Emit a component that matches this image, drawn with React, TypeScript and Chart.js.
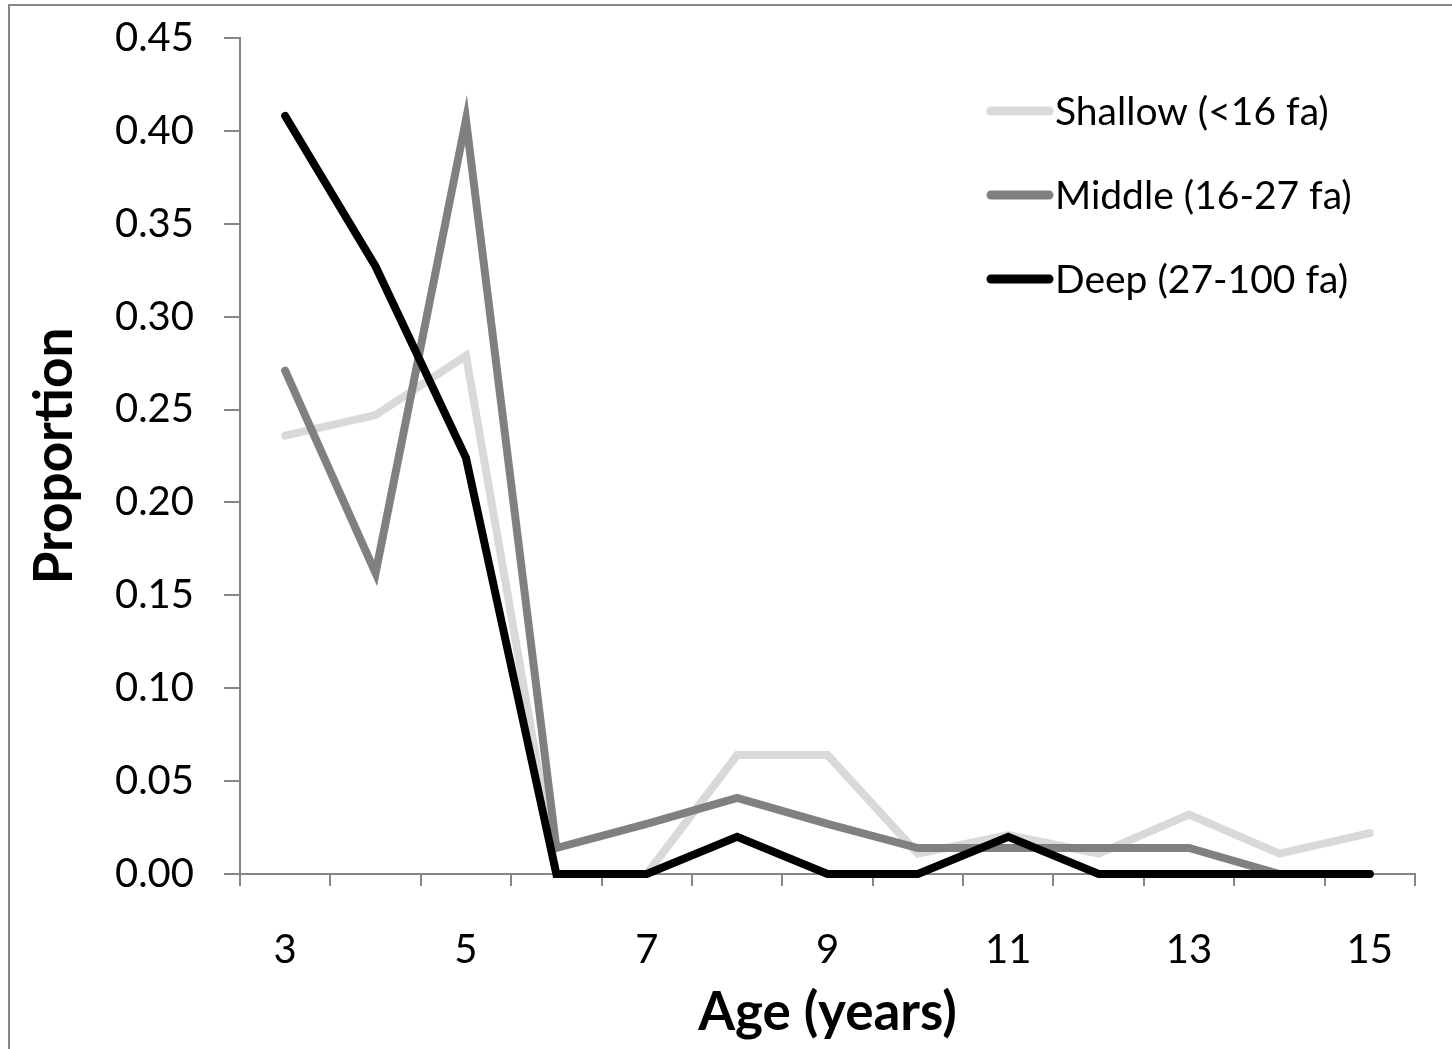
import React, { useEffect, useRef } from "react";
import { Chart, registerables } from "chart.js";

Chart.register(...registerables);

const ages = ["3", "4", "5", "6", "7", "8", "9", "10", "11", "12", "13", "14", "15"];
const shallow = [0.236, 0.247, 0.279, 0.0, 0.0, 0.064, 0.064, 0.011, 0.021, 0.011, 0.032, 0.011, 0.022];
const middle = [0.271, 0.162, 0.406, 0.014, 0.027, 0.041, 0.027, 0.014, 0.014, 0.014, 0.014, 0.0, 0.0];
const deep = [0.408, 0.327, 0.224, 0.0, 0.0, 0.020, 0.0, 0.0, 0.020, 0.0, 0.0, 0.0, 0.0];
const seriesLabels = ["Shallow (<16 fa)", "Middle (16-27 fa)", "Deep (27-100 fa)"];
const seriesColors = ["#d9d9d9", "#808080", "#000000"];

const FONT = "Lato, 'Open Sans', sans-serif";
const AXIS = "#868686";
const SHIFT = 16;

const overlayPlugin = {
  id: "overlay",
  afterDraw(chart: any) {
    const ctx = chart.ctx;
    ctx.save();
    ctx.strokeStyle = AXIS;
    ctx.lineWidth = 2;
    ctx.strokeRect(9, 5 + SHIFT, 1460, 1080);
    chart.data.datasets.forEach((ds: any, i: number) => {
      const y = 111 + SHIFT + i * 84;
      ctx.strokeStyle = ds.borderColor;
      ctx.lineWidth = 9;
      ctx.lineCap = "round";
      ctx.beginPath();
      ctx.moveTo(991, y);
      ctx.lineTo(1049, y);
      ctx.stroke();
      ctx.fillStyle = "#000";
      ctx.font = `39px ${FONT}`;
      ctx.textBaseline = "middle";
      ctx.textAlign = "left";
      ctx.fillText(ds.label, 1055, y + 1);
    });
    ctx.restore();
  },
};

export default function App() {
  const ref = useRef<HTMLCanvasElement>(null);
  useEffect(() => {
    if (!ref.current) return;
    const mk = (label: string, data: number[], color: string, order: number) => ({
      label,
      data,
      borderColor: color,
      backgroundColor: color,
      borderWidth: 8,
      pointRadius: 0,
      pointHoverRadius: 0,
      tension: 0,
      borderCapStyle: "round" as const,
      borderJoinStyle: "miter" as const,
      clip: false as any,
      order,
    });
    const chart = new Chart(ref.current, {
      type: "line",
      data: {
        labels: ages,
        datasets: [
          mk(seriesLabels[0], shallow, seriesColors[0], 3),
          mk(seriesLabels[1], middle, seriesColors[1], 2),
          mk(seriesLabels[2], deep, seriesColors[2], 1),
        ],
      },
      options: {
        animation: false,
        responsive: false,
        devicePixelRatio: 1,
        layout: { padding: { left: 0, top: 24, right: 37, bottom: 0 } },
        plugins: { legend: { display: false }, tooltip: { enabled: false } },
        scales: {
          x: {
            type: "category",
            offset: true,
            afterFit: (s: any) => {
              s.height = 175;
            },
            grid: {
              offset: true,
              drawOnChartArea: false,
              drawTicks: true,
              tickLength: 12,
              color: AXIS,
              lineWidth: 2,
            },
            border: { display: true, color: AXIS, width: 2 },
            ticks: {
              autoSkip: false,
              maxRotation: 0,
              padding: 40,
              color: "#000",
              font: { family: FONT, size: 40 },
              callback: function (this: any, value: any, index: number) {
                return index % 2 === 0 ? ages[index] : "";
              },
            },
            title: {
              display: true,
              text: "Age (years)",
              color: "#000",
              font: { family: FONT, size: 53, weight: "bold" },
              padding: { top: 0, bottom: 4 },
            },
          },
          y: {
            min: 0,
            max: 0.45,
            afterFit: (s: any) => {
              s.width = 240;
            },
            grid: {
              drawOnChartArea: false,
              drawTicks: true,
              tickLength: 16,
              color: AXIS,
              lineWidth: 2,
            },
            border: { display: true, color: AXIS, width: 2 },
            ticks: {
              stepSize: 0.05,
              padding: 30,
              color: "#000",
              font: { family: FONT, size: 40 },
              callback: (v: any) => Number(v).toFixed(2),
            },
            title: {
              display: true,
              text: "Proportion",
              color: "#000",
              font: { family: FONT, size: 53, weight: "bold" },
              padding: { top: 23, bottom: 0 },
            },
          },
        },
      },
      plugins: [overlayPlugin],
    });
    return () => chart.destroy();
  }, []);
  return (
    <div style={{ position: "absolute", left: 0, top: 0, width: 1452, height: 1049, overflow: "hidden", background: "#fff" }}>
      <canvas
        ref={ref}
        width={1452}
        height={1049 + SHIFT}
        style={{ display: "block", position: "absolute", left: 0, top: -SHIFT }}
      />
    </div>
  );
}
